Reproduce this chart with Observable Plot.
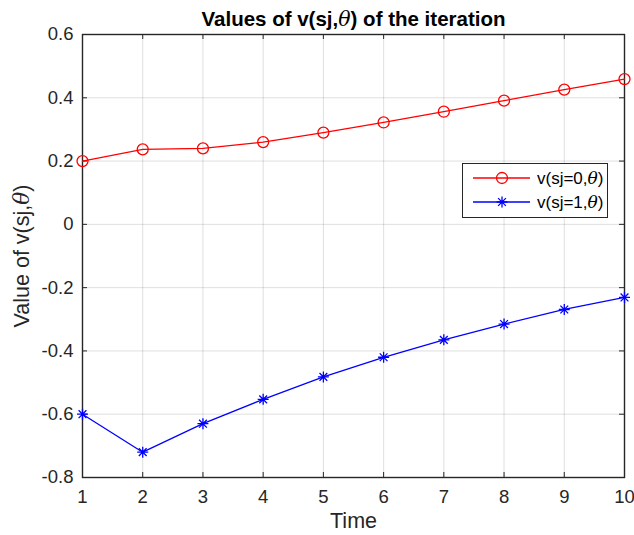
<!DOCTYPE html>
<html>
<head>
<meta charset="utf-8">
<script src="https://cdn.jsdelivr.net/npm/d3@7"></script>
<script src="https://cdn.jsdelivr.net/npm/@observablehq/plot@0.6"></script>
<style>
  html, body { margin: 0; padding: 0; background: #fff; }
  #chart svg { display: block; }
</style>
</head>
<body>
<div id="chart"></div>
<script>
// Iteration index and the two value series
const times = [1, 2, 3, 4, 5, 6, 7, 8, 9, 10];
const vSj0 = [0.200, 0.237, 0.240, 0.260, 0.290, 0.322, 0.356, 0.391, 0.426, 0.459];
const vSj1 = [-0.600, -0.720, -0.630, -0.553, -0.482, -0.420, -0.365, -0.315, -0.269, -0.231];

// Tick values
const xTicks = [1, 2, 3, 4, 5, 6, 7, 8, 9, 10];
const yTicks = [-0.8, -0.6, -0.4, -0.2, 0, 0.2, 0.4, 0.6];

// Series labels
const seriesNames = ["v(sj=0,θ)", "v(sj=1,θ)"];

const W = 634, H = 535;
const mL = 82, mR = 10, mT = 34, mB = 58;
const innerW = W - mL - mR, innerH = H - mT - mB;
const ink = "#262626";
const tickLen = 5;
const font = "'Liberation Sans', Arial, Helvetica, sans-serif";

// MATLAB-style eight-armed asterisk marker
const star8 = {
  draw(ctx, size) {
    const r = Math.sqrt(size / Math.PI);
    const d = r * Math.SQRT1_2;
    ctx.moveTo(-r, 0); ctx.lineTo(r, 0);
    ctx.moveTo(0, -r); ctx.lineTo(0, r);
    ctx.moveTo(-d, -d); ctx.lineTo(d, d);
    ctx.moveTo(-d, d); ctx.lineTo(d, -d);
  }
};

const rows0 = times.map((t, i) => ({t, v: vSj0[i]}));
const rows1 = times.map((t, i) => ({t, v: vSj1[i]}));

const chart = Plot.plot({
  width: W, height: H,
  marginLeft: mL, marginRight: mR, marginTop: mT, marginBottom: mB,
  style: {fontFamily: font, background: "#fff", color: ink, overflow: "visible"},
  x: {domain: [1, 10]},
  y: {domain: [-0.8, 0.6]},
  marks: [
    Plot.gridX(xTicks, {stroke: ink, strokeOpacity: 0.15, strokeWidth: 1}),
    Plot.gridY(yTicks, {stroke: ink, strokeOpacity: 0.15, strokeWidth: 1}),
    // inward ticks on all four sides
    Plot.tickX(xTicks, {x: d => d, insetTop: innerH - tickLen, stroke: ink}),
    Plot.tickX(xTicks, {x: d => d, insetBottom: innerH - tickLen, stroke: ink}),
    Plot.tickY(yTicks, {y: d => d, insetRight: innerW - tickLen, stroke: ink}),
    Plot.tickY(yTicks, {y: d => d, insetLeft: innerW - tickLen, stroke: ink}),
    Plot.axisX(xTicks, {tickSize: 0, tickPadding: 12, fontSize: 18.5, fill: ink, label: null}),
    Plot.axisY(yTicks, {tickSize: 0, tickPadding: 9, fontSize: 18.5, fill: ink, label: null,
      tickFormat: d => String(d)}),
    Plot.frame({stroke: ink, strokeWidth: 1.4}),
    // series
    Plot.line(rows0, {x: "t", y: "v", stroke: "#ff0000", strokeWidth: 1.3}),
    Plot.dot(rows0, {x: "t", y: "v", r: 5.5, stroke: "#ff0000", strokeWidth: 1.3, fill: "none"}),
    Plot.line(rows1, {x: "t", y: "v", stroke: "#0000ff", strokeWidth: 1.3}),
    Plot.dot(rows1, {x: "t", y: "v", r: 5.5, symbol: star8, stroke: "#0000ff", strokeWidth: 1.3, fill: "none"}),
    // title and axis labels
    Plot.text(["Values of v(sj,θ) of the iteration"], {frameAnchor: "top", dy: -15, lineAnchor: "middle",
      fontSize: 20.5, fontWeight: "bold", fill: "#000"}),
    Plot.text(["Time"], {frameAnchor: "bottom", dy: 44, lineAnchor: "middle", fontSize: 21.5, fill: ink}),
    Plot.text(["Value of v(sj,θ)"], {frameAnchor: "left", dx: -60, rotate: -90, textAnchor: "middle",
      lineAnchor: "middle", fontSize: 21.5, fill: ink})
  ]
});

// Legend box
const svg = d3.select(chart);
const lg = svg.append("g").attr("font-family", font).attr("text-anchor", "start");
lg.append("rect").attr("x", 462.5).attr("y", 163.5).attr("width", 145).attr("height", 54)
  .attr("fill", "#fff").attr("stroke", ink).attr("stroke-width", 1);
const legendItems = [
  {name: seriesNames[0], color: "#ff0000", marker: "circle"},
  {name: seriesNames[1], color: "#0000ff", marker: "star"}
];
legendItems.forEach((it, i) => {
  const y = 178 + i * 24;
  lg.append("line").attr("x1", 473).attr("x2", 530).attr("y1", y).attr("y2", y)
    .attr("stroke", it.color).attr("stroke-width", 1.3);
  if (it.marker === "circle") {
    lg.append("circle").attr("cx", 502).attr("cy", y).attr("r", 5.5)
      .attr("fill", "none").attr("stroke", it.color).attr("stroke-width", 1.3);
  } else {
    lg.append("path").attr("transform", `translate(502,${y})`)
      .attr("d", d3.symbol(star8, Math.PI * 5.5 * 5.5)())
      .attr("fill", "none").attr("stroke", it.color).attr("stroke-width", 1.3);
  }
  lg.append("text").attr("x", 537).attr("y", y).attr("dy", "0.35em")
    .attr("font-size", 17).attr("fill", "#000").text(it.name);
});

// Set the theta glyph in italics, as in TeX-style labels
svg.selectAll("text").each(function() {
  const el = this;
  const tspans = el.querySelectorAll("tspan");
  const targets = tspans.length ? Array.from(tspans) : [el];
  targets.forEach(node => {
    const s = node.textContent;
    if (!s.includes("θ")) return;
    node.textContent = "";
    s.split(/(θ)/).forEach(part => {
      if (!part) return;
      const t = document.createElementNS("http://www.w3.org/2000/svg", "tspan");
      t.textContent = part;
      if (part === "θ") {
        t.setAttribute("font-style", "italic");
        t.setAttribute("font-weight", "normal");
        t.setAttribute("font-family", "'DejaVu Serif', 'Liberation Serif', serif");
      }
      node.appendChild(t);
    });
  });
});

document.getElementById("chart").appendChild(chart);
</script>
</body>
</html>
